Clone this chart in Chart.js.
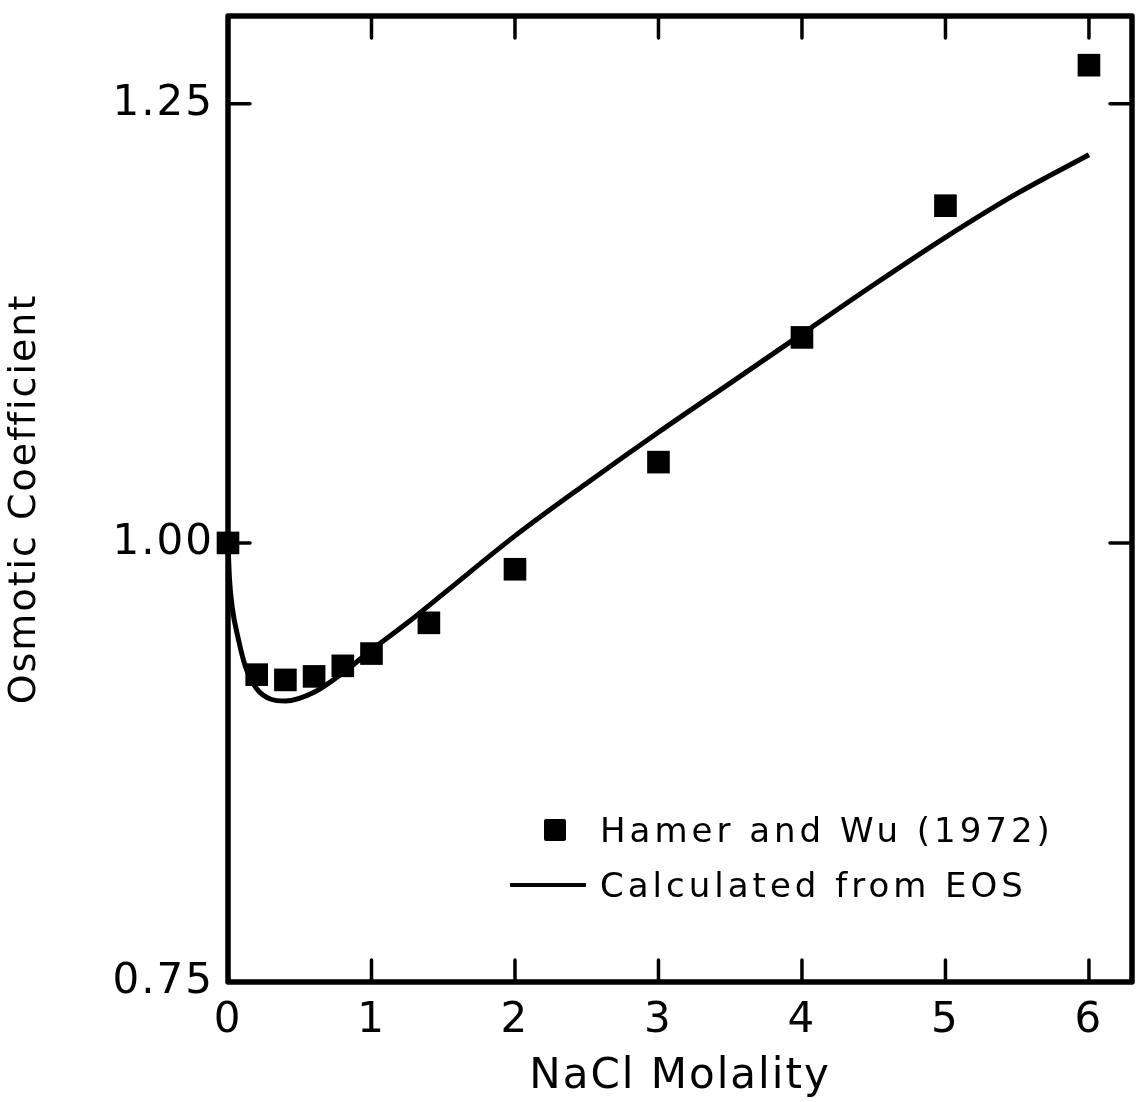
<!DOCTYPE html>
<html>
<head>
<meta charset="utf-8">
<script src="https://cdn.jsdelivr.net/npm/chart.js@4.4.1/dist/chart.umd.min.js"></script>
<style>
  html, body { margin: 0; padding: 0; background: #fff; }
  #wrap { position: relative; width: 1148px; height: 1102px; }
  #legend { position: absolute; left: 0; top: 0; font-family: 'DejaVu Sans', sans-serif; font-size: 34px; letter-spacing: 4px; color: #000; }
  .item { position: absolute; white-space: nowrap; height: 40px; line-height: 40px; }
  .swatch { position: absolute; background: #000; }
</style>
</head>
<body>
<div id="wrap">
  <canvas id="osmotic" width="1148" height="1102"></canvas>
  <div id="legend"></div>
</div>
<script>
// Hamer and Wu (1972) data
const molality = [0, 0.2, 0.4, 0.6, 0.8, 1.0, 1.4, 2, 3, 4, 5, 6];
const osmoticMeasured = [1.000, 0.925, 0.922, 0.924, 0.930, 0.937, 0.9545, 0.985, 1.046, 1.117, 1.192, 1.272];

// curve calculated from EOS
const eosMolality = [0, 0.01, 0.03, 0.07, 0.12, 0.2, 0.3, 0.4, 0.6, 0.8, 1.0, 1.25, 1.5, 2.0, 2.5, 3.0, 3.5, 4.0, 4.5, 5.0, 5.5, 6.0];
const eosOsmotic = [1.000, 0.980, 0.963, 0.946, 0.930, 0.917, 0.911, 0.910, 0.915, 0.926, 0.939, 0.9545, 0.971, 1.004, 1.034, 1.063, 1.091, 1.119, 1.147, 1.174, 1.199, 1.221];

const xTicks = [0, 1, 2, 3, 4, 5, 6];
const yTicks = [0.75, 1.00, 1.25];

const FONT = 'DejaVu Sans';

const spacing = {
  id: 'spacing',
  beforeUpdate(chart) { chart.ctx.letterSpacing = '2px'; },
  beforeDraw(chart) { chart.ctx.letterSpacing = '2px'; }
};

// box round the plot with inward ticks on all four sides
const frame = {
  id: 'frame',
  beforeDatasetsDraw(chart) {
    const { ctx, chartArea: a, scales: { x, y } } = chart;
    const len = 22;
    ctx.save();
    ctx.strokeStyle = '#000';
    ctx.lineCap = 'round';
    ctx.lineWidth = 3.5;
    ctx.beginPath();
    x.ticks.forEach(t => {
      const px = x.getPixelForValue(t.value);
      if (px < a.left + 3 || px > a.right - 3) return;
      ctx.moveTo(px, a.bottom); ctx.lineTo(px, a.bottom - len);
      ctx.moveTo(px, a.top); ctx.lineTo(px, a.top + len);
    });
    y.ticks.forEach(t => {
      const py = y.getPixelForValue(t.value);
      if (py > a.bottom - 3 || py < a.top + 3) return;
      ctx.moveTo(a.left, py); ctx.lineTo(a.left + len, py);
      ctx.moveTo(a.right, py); ctx.lineTo(a.right - len, py);
    });
    ctx.stroke();
    ctx.lineWidth = 5.5;
    ctx.lineJoin = 'round';
    ctx.strokeRect(a.left, a.top, a.right - a.left, a.bottom - a.top);
    ctx.restore();
  }
};

const chart = new Chart(document.getElementById('osmotic'), {
  type: 'scatter',
  data: {
    datasets: [{
      label: 'Hamer and Wu (1972)',
      data: molality.map((m, i) => ({ x: m, y: osmoticMeasured[i] })),
      pointStyle: 'rect',
      pointRadius: 16,
      pointHoverRadius: 16,
      backgroundColor: '#000',
      borderColor: '#000',
      borderWidth: 0,
      clip: false
    }, {
      label: 'Calculated from EOS',
      data: eosMolality.map((m, i) => ({ x: m, y: eosOsmotic[i] })),
      showLine: true,
      cubicInterpolationMode: 'monotone',
      pointRadius: 0,
      borderColor: '#000',
      borderWidth: 5,
      clip: false
    }]
  },
  options: {
    responsive: false,
    animation: false,
    devicePixelRatio: 1,
    layout: { padding: { top: 13, right: 14, left: 0, bottom: 0 } },
    plugins: {
      legend: { display: false },
      tooltip: { enabled: false }
    },
    scales: {
      x: {
        type: 'linear',
        min: 0,
        max: 6.3,
        afterBuildTicks: s => { s.ticks = xTicks.map(v => ({ value: v })); },
        afterFit: s => { s.height = 120; s.paddingLeft = 0; s.paddingRight = 0; },
        grid: { display: false, drawTicks: false },
        border: { display: false },
        ticks: {
          padding: 14,
          color: '#000',
          font: { family: FONT, size: 42 },
          maxRotation: 0,
          callback: v => String(v)
        },
        title: {
          display: true,
          text: 'NaCl Molality',
          color: '#000',
          padding: { top: 0, bottom: 0 },
          font: { family: FONT, size: 42, lineHeight: 1.2 }
        }
      },
      y: {
        type: 'linear',
        min: 0.75,
        max: 1.30,
        afterBuildTicks: s => { s.ticks = yTicks.map(v => ({ value: v })); },
        afterFit: s => { s.width = 228; s.paddingTop = 0; s.paddingBottom = 0; },
        grid: { display: false, drawTicks: false },
        border: { display: false },
        ticks: {
          padding: 14,
          color: '#000',
          font: { family: FONT, size: 42 },
          callback: v => v.toFixed(2)
        },
        title: {
          display: true,
          text: 'Osmotic Coefficient',
          color: '#000',
          padding: { top: 0, bottom: 0 },
          font: { family: FONT, size: 38, lineHeight: 1.3 }
        }
      }
    }
  },
  plugins: [spacing, frame]
});

// legend inside the plot, bottom right
const legend = document.getElementById('legend');
const rows = [{ y: 830, marker: 'square' }, { y: 885, marker: 'line' }];
chart.data.datasets.forEach((ds, i) => {
  const r = rows[i];
  const sw = document.createElement('div');
  sw.className = 'swatch';
  if (r.marker === 'square') {
    sw.style.cssText = 'left:544px;top:' + (r.y - 11) + 'px;width:22px;height:22px;border-radius:2px;';
  } else {
    sw.style.cssText = 'left:510px;top:' + (r.y - 2) + 'px;width:76px;height:4px;';
  }
  legend.appendChild(sw);
  const t = document.createElement('div');
  t.className = 'item';
  t.style.left = '600px';
  t.style.top = (r.y - 20) + 'px';
  t.textContent = ds.label;
  legend.appendChild(t);
});
</script>
</body>
</html>
